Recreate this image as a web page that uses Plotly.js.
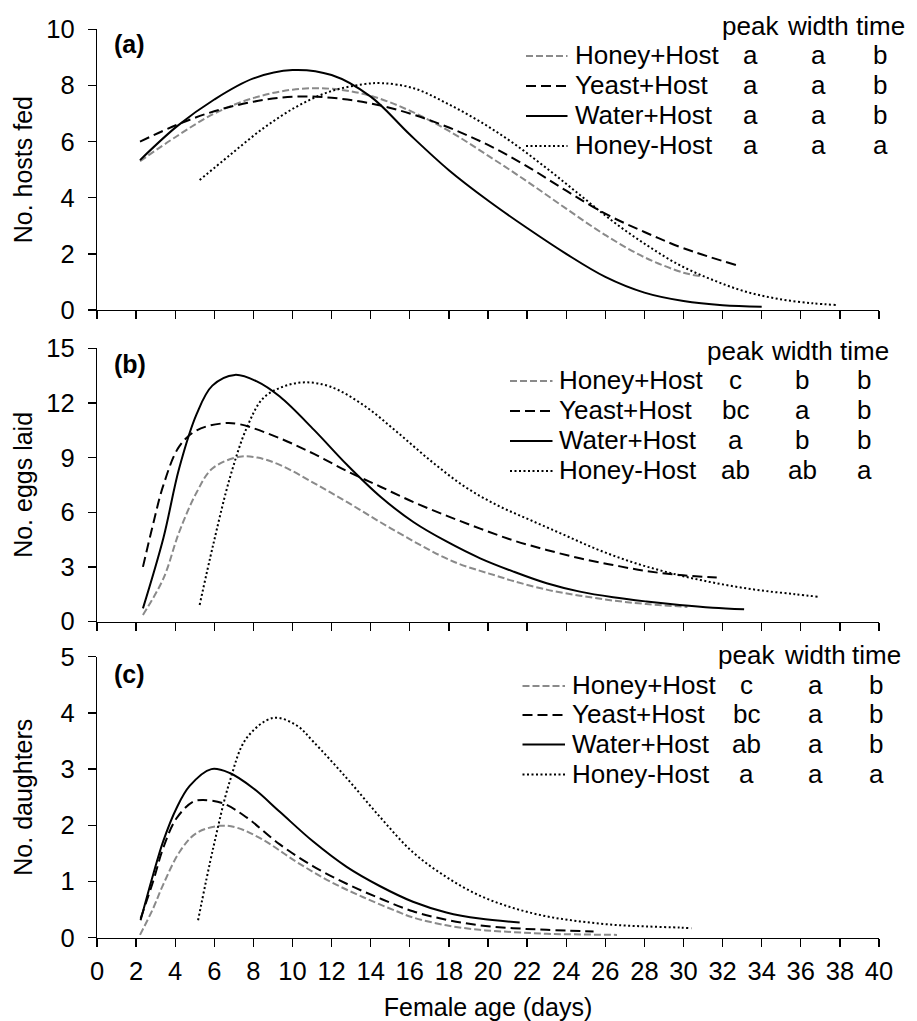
<!DOCTYPE html>
<html><head><meta charset="utf-8">
<script src="https://cdn.plot.ly/plotly-3.0.1.min.js"></script>
<style>html,body{margin:0;padding:0;background:#fff}#chart{width:917px;height:1021px}</style>
</head><body><div id="chart"></div>
<script>
// ---------- DATA ----------
const seriesNames = ['Honey+Host', 'Yeast+Host', 'Water+Host', 'Honey-Host'];
const columnHeaders = ['peak', 'width', 'time'];
const panelLabels = ['(a)', '(b)', '(c)'];
const yTitles = ['No. hosts fed', 'No. eggs laid', 'No. daughters'];
const xTitle = 'Female age (days)';

// Panel (a): No. hosts fed
const aHoneyHostX = [2.2, 4.1, 6, 8, 10, 12, 14, 16, 18, 20, 22, 24, 26, 28, 30, 30.9];
const aHoneyHostY = [5.3, 6.2, 7.0, 7.55, 7.85, 7.88, 7.63, 7.1, 6.38, 5.5, 4.58, 3.61, 2.67, 1.88, 1.33, 1.2];
const aYeastHostX = [2.2, 4.1, 6, 8, 10, 12, 14, 16, 18, 20, 22, 24, 26, 28, 30, 32.7];
const aYeastHostY = [6.0, 6.6, 7.08, 7.42, 7.6, 7.56, 7.36, 7.0, 6.5, 5.88, 5.12, 4.25, 3.43, 2.78, 2.2, 1.6];
const aWaterHostX = [2.2, 4.1, 6, 8, 10, 12, 14, 16, 18, 20, 22, 24, 26, 28, 30, 32, 34];
const aWaterHostY = [5.34, 6.55, 7.5, 8.25, 8.55, 8.37, 7.6, 6.25, 4.98, 3.9, 2.92, 2.0, 1.18, 0.62, 0.32, 0.17, 0.12];
const aHoneyNoHostX = [5.25, 6.8, 8.5, 10.2, 11.9, 13.6, 14.6, 16.2, 17.9, 19.6, 21.3, 23, 24.7, 26.4, 28.1, 29.8, 31.5, 33.2, 34.9, 36.6, 37.8];
const aHoneyNoHostY = [4.63, 5.52, 6.47, 7.24, 7.78, 8.04, 8.08, 7.9, 7.36, 6.71, 5.94, 5.05, 4.1, 3.15, 2.32, 1.6, 1.07, 0.65, 0.39, 0.24, 0.18];
const aLetters = [['a', 'a', 'b'], ['a', 'a', 'b'], ['a', 'a', 'b'], ['a', 'a', 'a']];

// Panel (b): No. eggs laid
const bHoneyHostX = [2.35, 3.4, 4.2, 5.1, 5.9, 7.3, 8.2, 9.35, 11.1, 12.8, 14.5, 16.2, 17.5, 18.55, 19.6, 20.4, 21.3, 23, 24.7, 26.4, 28.1, 30.2];
const bHoneyHostY = [0.36, 2.37, 4.9, 7.1, 8.4, 9.05, 9.0, 8.6, 7.6, 6.55, 5.45, 4.4, 3.65, 3.15, 2.78, 2.52, 2.22, 1.75, 1.42, 1.15, 0.96, 0.8];
const bYeastHostX = [2.35, 2.86, 3.4, 4.2, 5.1, 6.45, 7.3, 9.35, 11.1, 12.8, 14.5, 16.2, 17.9, 19.6, 21.3, 23, 24.7, 26.4, 28.1, 29.8, 31.7];
const bYeastHostY = [3.0, 5.3, 7.5, 9.6, 10.5, 10.88, 10.83, 10.06, 9.2, 8.25, 7.4, 6.55, 5.8, 5.1, 4.45, 3.93, 3.47, 3.1, 2.77, 2.55, 2.41];
const bWaterHostX = [2.35, 3.4, 4.2, 5.1, 5.9, 7.05, 8.2, 9.35, 11.1, 12.8, 14.5, 16.2, 17.9, 19.6, 21.3, 23, 24.7, 26.4, 28.1, 29.8, 31.5, 33.1];
const bWaterHostY = [0.72, 4.6, 8.4, 11.4, 12.95, 13.54, 13.17, 12.35, 10.52, 8.59, 6.85, 5.45, 4.38, 3.47, 2.74, 2.1, 1.64, 1.33, 1.1, 0.91, 0.76, 0.67];
const bHoneyNoHostX = [5.25, 5.94, 6.79, 7.65, 8.5, 9.53, 10.63, 11.92, 13.62, 15.33, 17.04, 18.75, 20.44, 22.1, 23.8, 25.5, 27.2, 28.9, 30.6, 32.3, 34.0, 35.7, 36.9];
const bHoneyNoHostY = [0.91, 4.2, 7.86, 10.61, 12.26, 12.9, 13.13, 12.9, 11.89, 10.42, 8.85, 7.45, 6.4, 5.6, 4.8, 4.0, 3.32, 2.78, 2.34, 1.98, 1.7, 1.5, 1.36];
const bLetters = [['c', 'b', 'b'], ['bc', 'a', 'b'], ['a', 'b', 'b'], ['ab', 'ab', 'a']];

// Panel (c): No. daughters
const cHoneyHostX = [2.2, 2.87, 3.38, 4.23, 5.08, 6.28, 7.13, 8.5, 10.2, 11.92, 13.62, 15.33, 16.16, 17.87, 19.57, 21.28, 23, 26.6];
const cHoneyHostY = [0.05, 0.52, 0.94, 1.53, 1.86, 1.99, 1.96, 1.74, 1.35, 1.0, 0.72, 0.47, 0.36, 0.22, 0.14, 0.1, 0.07, 0.05];
const cYeastHostX = [2.23, 2.87, 3.38, 4.06, 4.91, 5.42, 6.45, 7.65, 9.35, 11.06, 12.77, 14.47, 16.16, 17.87, 19.57, 21.28, 23, 25.4];
const cYeastHostY = [0.34, 1.0, 1.59, 2.12, 2.42, 2.45, 2.39, 2.14, 1.66, 1.27, 0.96, 0.7, 0.47, 0.32, 0.22, 0.17, 0.14, 0.11];
const cWaterHostX = [2.23, 2.87, 3.38, 4.06, 4.74, 5.85, 6.79, 7.99, 9.35, 11.06, 12.77, 14.46, 16.16, 17.87, 19.57, 21.62];
const cWaterHostY = [0.31, 1.12, 1.71, 2.3, 2.7, 3.0, 2.93, 2.66, 2.24, 1.71, 1.26, 0.92, 0.64, 0.45, 0.34, 0.27];
const cHoneyNoHostX = [5.17, 5.94, 6.79, 7.65, 9.01, 10.2, 11.06, 12.77, 14.47, 16.16, 17.87, 19.57, 21.28, 23, 24.7, 26.4, 28.1, 29.8, 30.4];
const cHoneyNoHostY = [0.31, 1.59, 2.78, 3.55, 3.91, 3.78, 3.49, 2.84, 2.15, 1.52, 1.08, 0.75, 0.53, 0.38, 0.29, 0.23, 0.2, 0.18, 0.17];
const cLetters = [['c', 'a', 'b'], ['bc', 'a', 'b'], ['ab', 'a', 'b'], ['a', 'a', 'a']];

const xTickVals = [0, 2, 4, 6, 8, 10, 12, 14, 16, 18, 20, 22, 24, 26, 28, 30, 32, 34, 36, 38, 40];

// ---------- STYLE / GEOMETRY ----------
const FONT = 'Liberation Sans, Arial, Helvetica, sans-serif';
const FS_TICK = 25.5, FS_TITLE = 25, FS_LEG = 26, FS_LABEL = 25;
const lineStyles = [
  {color: '#8a8a8a', dash: '7px,3px'},
  {color: '#000000', dash: '10px,5px'},
  {color: '#000000', dash: 'solid'},
  {color: '#000000', dash: '2px,2.5px'}
];
const W = 917, H = 1021, ML = 97, MR = 38, MT = 29, MB = 83;
const PW = W - ML - MR, PH = H - MT - MB;
const px = x => (x - ML) / PW;
const py = y => (H - MB - y) / PH;

const panels = [
  {xs: [aHoneyHostX, aYeastHostX, aWaterHostX, aHoneyNoHostX], ys: [aHoneyHostY, aYeastHostY, aWaterHostY, aHoneyNoHostY],
   letters: aLetters, range: [0, 10], dtick: 2, dom: [310, 29.3],
   rowY: [55, 85, 115, 145], headY: 26, sampleX: [526, 567.5], textX: 573, colX: [750, 818.3, 880], labelY: 44},
  {xs: [bHoneyHostX, bYeastHostX, bWaterHostX, bHoneyNoHostX], ys: [bHoneyHostY, bYeastHostY, bWaterHostY, bHoneyNoHostY],
   letters: bLetters, range: [0, 15], dtick: 3, dom: [621.5, 348.3],
   rowY: [380, 410, 440, 470], headY: 350.5, sampleX: [510, 552.5], textX: 557, colX: [735, 802.3, 864], labelY: 364},
  {xs: [cHoneyHostX, cYeastHostX, cWaterHostX, cHoneyNoHostX], ys: [cHoneyHostY, cYeastHostY, cWaterHostY, cHoneyNoHostY],
   letters: cLetters, range: [0, 5], dtick: 1, dom: [937.7, 656.7],
   rowY: [685, 714, 743.5, 773.5], headY: 655, sampleX: [522.5, 565], textX: 569.5, colX: [746.7, 815, 876], labelY: 673.5}
];

const traces = [];
const shapes = [];
const annotations = [];
const layout = {
  width: W, height: H,
  margin: {l: ML, r: MR, t: MT, b: MB, pad: 0},
  paper_bgcolor: '#ffffff', plot_bgcolor: '#ffffff',
  showlegend: false,
  font: {family: FONT, size: FS_TITLE, color: '#000000'},
  shapes: shapes, annotations: annotations
};

const yStandoffs = [6, 6, 20];
panels.forEach((p, i) => {
  const sfx = i === 0 ? '' : String(i + 1);
  p.xs.forEach((xv, s) => {
    traces.push({
      type: 'scatter', mode: 'lines', name: seriesNames[s],
      x: xv, y: p.ys[s], xaxis: 'x' + sfx, yaxis: 'y' + sfx,
      line: {color: lineStyles[s].color, dash: lineStyles[s].dash, width: 2, shape: 'spline', smoothing: 1},
      hoverinfo: 'x+y+name'
    });
  });
  const isBottom = i === 2;
  layout['xaxis' + sfx] = {
    domain: [0, 1], range: [0, 40], anchor: 'y' + sfx,
    tickmode: 'array', tickvals: xTickVals, ticktext: xTickVals.map(String),
    ticks: 'outside', ticklen: 8, tickwidth: 1.3, tickcolor: '#000',
    showticklabels: isBottom, ticklabelstandoff: 2,
    tickfont: {family: FONT, size: FS_TICK, color: '#000'},
    showline: true, linecolor: '#000', linewidth: 1.3,
    showgrid: false, zeroline: false, fixedrange: true,
    title: isBottom ? {text: xTitle, font: {family: FONT, size: FS_TITLE, color: '#000'}, standoff: 19} : {text: ''}
  };
  layout['yaxis' + sfx] = {
    domain: [Math.max(0, py(p.dom[0])), Math.min(1, py(p.dom[1]))],
    range: p.range, dtick: p.dtick, tick0: 0, anchor: 'x' + sfx,
    ticks: 'outside', ticklen: 8, tickwidth: 1.3, tickcolor: '#000',
    ticklabelstandoff: 8,
    tickfont: {family: FONT, size: FS_TICK, color: '#000'},
    showline: true, linecolor: '#000', linewidth: 1.3,
    showgrid: false, zeroline: false, fixedrange: true,
    title: {text: yTitles[i], font: {family: FONT, size: FS_TITLE, color: '#000'}, standoff: yStandoffs[i]}
  };
  // panel label
  annotations.push({xref: 'paper', yref: 'paper', x: px(112), y: py(p.labelY), xanchor: 'left', yanchor: 'middle',
    text: '<b>' + panelLabels[i] + '</b>', showarrow: false, font: {family: FONT, size: FS_LABEL, color: '#000'}});
  // column headers
  columnHeaders.forEach((h, c) => {
    annotations.push({xref: 'paper', yref: 'paper', x: px(p.colX[c]), y: py(p.headY), xanchor: 'center', yanchor: 'middle',
      text: h, showarrow: false, font: {family: FONT, size: FS_LEG, color: '#000'}});
  });
  // legend rows
  seriesNames.forEach((nm, s) => {
    const yy = p.rowY[s];
    shapes.push({type: 'line', xref: 'paper', yref: 'paper', x0: px(p.sampleX[0]), x1: px(p.sampleX[1]), y0: py(yy + 1), y1: py(yy + 1),
      line: {color: lineStyles[s].color, width: 2, dash: lineStyles[s].dash}});
    annotations.push({xref: 'paper', yref: 'paper', x: px(p.textX), y: py(yy), xanchor: 'left', yanchor: 'middle',
      text: nm, showarrow: false, font: {family: FONT, size: FS_LEG, color: '#000'}});
    p.letters[s].forEach((lt, c) => {
      annotations.push({xref: 'paper', yref: 'paper', x: px(p.colX[c]), y: py(yy), xanchor: 'center', yanchor: 'middle',
        text: lt, showarrow: false, font: {family: FONT, size: FS_LEG, color: '#000'}});
    });
  });
});

Plotly.newPlot('chart', traces, layout, {displayModeBar: false, staticPlot: true});
</script>
</body></html>
